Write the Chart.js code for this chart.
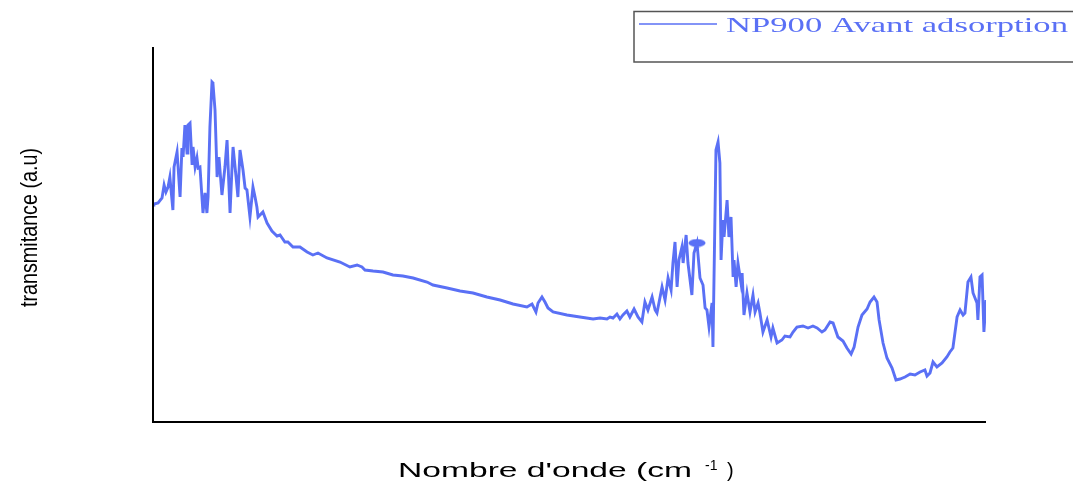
<!DOCTYPE html>
<html>
<head>
<meta charset="utf-8">
<script src="https://cdn.jsdelivr.net/npm/chart.js@4"></script>
<style>
  html, body { margin: 0; padding: 0; background: #fff; }
  #wrap { width: 1073px; height: 482px; }
</style>
</head>
<body>
<div id="wrap"><canvas id="spectrum"></canvas></div>
<script>
// FTIR spectrum, NP900 before adsorption
const wavenumbers = [
    4000, 3996, 3978, 3961, 3952, 3944, 3935, 3927, 3914, 3909, 3896, 3883, 3875, 3870, 3862, 3853,
    3849, 3840, 3831, 3827, 3818, 3810, 3805, 3797, 3784, 3775, 3767, 3762, 3754, 3745, 3741, 3732,
    3723, 3715, 3702, 3689, 3680, 3667, 3659, 3654, 3641, 3633, 3624, 3611, 3602, 3594, 3581, 3568,
    3559, 3551, 3546, 3525, 3507, 3486, 3464, 3451, 3430, 3417, 3395, 3365, 3334, 3309, 3287, 3248,
    3192, 3149, 3118, 3097, 3084, 3049, 3006, 2963, 2920, 2876, 2816, 2790, 2729, 2673, 2617, 2557,
    2500, 2444, 2384, 2362, 2345, 2336, 2319, 2306, 2293, 2271, 2211, 2155, 2098, 2068, 2038, 2025,
    2012, 1995, 1982, 1969, 1952, 1939, 1921, 1904, 1887, 1874, 1861, 1843, 1830, 1822, 1800, 1787,
    1774, 1761, 1753, 1744, 1735, 1727, 1714, 1709, 1696, 1688, 1671, 1662, 1649, 1636, 1623, 1614,
    1606, 1597, 1584, 1580, 1567, 1558, 1550, 1545, 1537, 1532, 1519, 1511, 1502, 1493, 1489, 1480,
    1472, 1459, 1454, 1446, 1433, 1420, 1407, 1398, 1385, 1377, 1364, 1346, 1329, 1321, 1303, 1282,
    1269, 1247, 1234, 1217, 1191, 1169, 1148, 1130, 1109, 1096, 1074, 1061, 1040, 1018, 1001, 983,
    970, 953, 936, 914, 901, 884, 871, 862, 845, 828, 806, 789, 772, 750, 728, 707,
    685, 664, 655, 642, 629, 612, 590, 569, 556, 543, 525, 512, 499, 491, 478, 465,
    456, 439, 435, 426, 417, 409, 400
];
const transmittance = [
    43.4, 43.6, 43.8, 44.8, 47.4, 46.0, 47.0, 49.0, 42.4, 51.0, 54.0, 45.0, 54.8, 53.0, 59.4, 53.8,
    59.4, 59.8, 51.4, 55.0, 51.0, 52.8, 50.8, 51.0, 41.8, 45.8, 41.8, 45.0, 59.0, 68.0, 67.8, 62.4,
    49.0, 53.0, 45.4, 51.0, 56.4, 41.8, 50.4, 55.0, 49.0, 45.0, 54.4, 50.4, 46.8, 46.4, 41.0, 47.0,
    45.0, 43.0, 41.0, 42.0, 39.8, 38.2, 37.2, 37.4, 36.0, 36.0, 35.0, 35.0, 34.0, 33.4, 33.8, 32.8,
    32.0, 31.0, 31.4, 31.0, 30.4, 30.2, 30.0, 29.4, 29.2, 28.8, 28.0, 27.4, 26.8, 26.2, 25.8, 25.0,
    24.4, 23.6, 23.0, 23.6, 22.0, 23.8, 25.0, 24.0, 22.8, 22.0, 21.4, 21.0, 20.6, 20.8, 20.6, 21.0,
    20.8, 21.6, 20.6, 21.4, 22.2, 21.0, 22.6, 21.0, 20.0, 24.0, 22.4, 25.0, 22.4, 21.8, 27.0, 24.4,
    28.8, 26.4, 31.8, 36.0, 27.0, 32.4, 35.0, 31.8, 37.4, 31.8, 25.4, 33.8, 35.8, 28.8, 27.4, 22.8,
    22.4, 19.0, 23.8, 15.0, 54.4, 56.0, 51.8, 32.4, 40.4, 37.0, 44.4, 37.0, 41.0, 29.0, 32.4, 27.0,
    31.8, 27.8, 29.8, 21.4, 25.8, 22.0, 25.4, 22.0, 23.8, 21.8, 18.0, 20.4, 17.0, 18.8, 15.8, 16.4,
    17.2, 17.0, 18.0, 19.0, 19.2, 18.8, 19.2, 18.8, 18.0, 18.4, 20.0, 19.8, 17.0, 16.2, 14.8, 13.6,
    15.0, 19.0, 21.4, 22.6, 24.0, 25.0, 24.0, 20.4, 15.8, 12.8, 10.8, 8.4, 8.6, 9.0, 9.6, 9.4,
    10.0, 10.4, 9.2, 9.8, 12.0, 11.0, 11.8, 13.0, 14.0, 14.8, 21.0, 22.4, 21.4, 21.8, 28.0, 29.0,
    25.8, 23.8, 20.4, 29.0, 29.4, 18.0, 24.4
];
// the small blob on the 1650 band
const blobX = [1649];
const blobY = [35.8];

const seriesName = 'NP900 Avant adsorption';
const xTitle = "Nombre d'onde (cm";
const xTitleSup = '-1';
const yTitle = 'transmitance (a.u)';

const lineColor = '#5a70f5';

// ellipse used as point style for the blob
const blob = document.createElement('canvas');
blob.width = 18;
blob.height = 9;
const bctx = blob.getContext('2d');
bctx.fillStyle = lineColor;
bctx.beginPath();
bctx.ellipse(9, 4.5, 8.5, 4, 0, 0, Math.PI * 2);
bctx.fill();

// draws text squeezed / stretched to a given width
function fitText(ctx, text, x, y, width) {
    const w = ctx.measureText(text).width;
    ctx.save();
    ctx.translate(x, y);
    ctx.scale(width / w, 1);
    ctx.fillText(text, 0, 0);
    ctx.restore();
}

const decorations = {
    id: 'decorations',
    afterDraw(chart) {
        const ctx = chart.ctx;
        const area = chart.chartArea;

        // axis lines
        ctx.save();
        ctx.strokeStyle = '#000';
        ctx.lineWidth = 2;
        ctx.beginPath();
        ctx.moveTo(area.left, area.top);
        ctx.lineTo(area.left, area.bottom);
        ctx.lineTo(area.right, area.bottom);
        ctx.stroke();

        // legend box
        ctx.strokeStyle = '#555';
        ctx.lineWidth = 1.5;
        ctx.strokeRect(634, 11.5, 460, 50.5);
        ctx.strokeStyle = lineColor;
        ctx.lineWidth = 1.5;
        ctx.beginPath();
        ctx.moveTo(639, 24);
        ctx.lineTo(717, 24);
        ctx.stroke();
        ctx.fillStyle = lineColor;
        ctx.font = '22px "Liberation Serif"';
        ctx.textBaseline = 'alphabetic';
        fitText(ctx, seriesName, 726, 32, 342);

        // axis titles
        ctx.fillStyle = '#000';
        ctx.font = '20px "Liberation Sans"';
        fitText(ctx, xTitle, 398, 477, 294);
        ctx.font = '14px "Liberation Sans"';
        ctx.fillText(xTitleSup, 705, 470);
        ctx.font = '20px "Liberation Sans"';
        ctx.fillText(')', 727, 477);

        ctx.save();
        ctx.translate(37, 307);
        ctx.rotate(-Math.PI / 2);
        ctx.font = '24px "Liberation Sans"';
        fitText(ctx, yTitle, 0, 0, 159);
        ctx.restore();
        ctx.restore();
    }
};

new Chart(document.getElementById('spectrum'), {
    type: 'line',
    data: {
        datasets: [{
            label: seriesName,
            data: wavenumbers.map((w, i) => ({ x: w, y: transmittance[i] })),
            borderColor: lineColor,
            borderWidth: 2.9,
            pointRadius: 0,
            tension: 0,
            fill: false
        }, {
            label: 'blob',
            data: blobX.map((w, i) => ({ x: w, y: blobY[i] })),
            showLine: false,
            pointStyle: blob,
            pointRadius: 5
        }]
    },
    options: {
        responsive: true,
        maintainAspectRatio: false,
        animation: false,
        layout: { padding: { left: 153, right: 87, top: 47, bottom: 60 } },
        plugins: {
            legend: { display: false },
            tooltip: { enabled: false }
        },
        scales: {
            x: { type: 'linear', display: false, min: 400, max: 4000, reverse: true },
            y: { type: 'linear', display: false, min: 0, max: 75 }
        }
    },
    plugins: [decorations]
});
</script>
</body>
</html>
